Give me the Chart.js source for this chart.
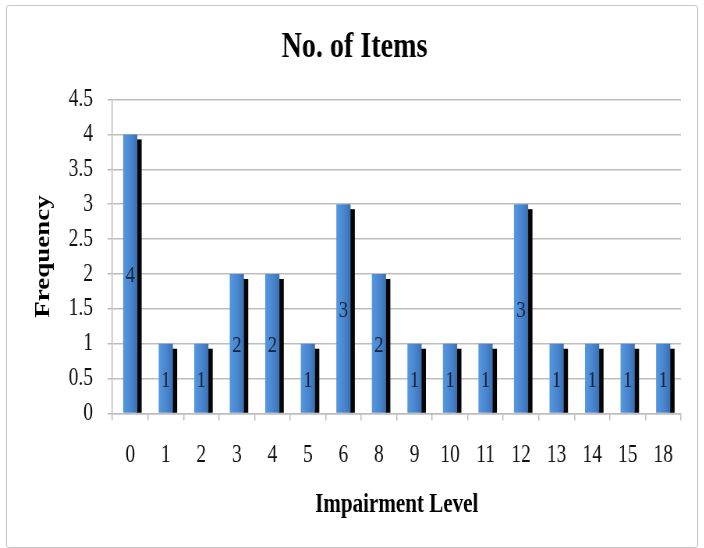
<!DOCTYPE html>
<html>
<head>
<meta charset="utf-8">
<script src="https://cdn.jsdelivr.net/npm/chart.js@4.4.1/dist/chart.umd.min.js"></script>
<style>
  html, body { margin: 0; padding: 0; background: #fff; overflow: hidden; }
  #wrap { position: absolute; left: 0; top: 0; width: 704px; height: 548px; overflow: hidden; }
  /* the chart is laid out wide and narrowed horizontally, giving the condensed look */
  #chart { position: absolute; left: 0; top: 0; transform: scaleX(0.78); transform-origin: 0 0; }
  #frame { position: absolute; left: 6px; top: 5px; width: 692px; height: 543px;
           border: 1px solid #c4c4c4; border-radius: 3px; box-sizing: border-box; pointer-events: none; }
</style>
</head>
<body>
<div id="wrap"><canvas id="chart" width="903" height="548"></canvas></div>
<div id="frame"></div>
<script>
// Impairment level categories and how many items fall in each
const categories = ['0', '1', '2', '3', '4', '5', '6', '8', '9', '10', '11', '12', '13', '14', '15', '18'];
const counts     = [4, 1, 1, 2, 2, 1, 3, 2, 1, 1, 1, 3, 1, 1, 1, 1];

const chartTitle = 'No. of Items';
const xAxisTitle = 'Impairment Level';
const yAxisTitle = 'Frequency';
const yMin = 0;
const yMax = 4.5;
const yStep = 0.5;

const SERIF = '"Liberation Serif", "Times New Roman", serif';
const BAR_FRACTION = 0.4;

// blue bar fill, lighter on the left edge and darker on the right
function barFill(context) {
  const chart = context.chart;
  const xs = chart.scales.x;
  if (!xs || !chart.chartArea) return '#4a88d2';
  const cx = xs.getPixelForValue(context.dataIndex);
  const half = (xs.width / categories.length) * BAR_FRACTION / 2;
  const g = chart.ctx.createLinearGradient(cx - half, 0, cx + half, 0);
  g.addColorStop(0, '#5798de');
  g.addColorStop(0.55, '#4886d0');
  g.addColorStop(1, '#3a6fb1');
  return g;
}

// hard black drop shadow behind each bar, offset right and down
const barShadow = {
  id: 'barShadow',
  beforeDatasetsDraw(chart) {
    const ctx = chart.ctx;
    const meta = chart.getDatasetMeta(0);
    ctx.save();
    ctx.fillStyle = '#050505';
    meta.data.forEach(bar => {
      const p = bar.getProps(['x', 'y', 'base', 'width'], true);
      const top = p.y + 5;
      ctx.fillRect(p.x + p.width / 2 - 1, top, 6.5, p.base - top);
    });
    ctx.restore();
  }
};

// value written in the middle of each bar
const valueLabels = {
  id: 'valueLabels',
  afterDatasetsDraw(chart) {
    const ctx = chart.ctx;
    const meta = chart.getDatasetMeta(0);
    const values = chart.data.datasets[0].data;
    ctx.save();
    ctx.font = '24px ' + SERIF;
    ctx.fillStyle = '#17223a';
    ctx.textAlign = 'center';
    ctx.textBaseline = 'middle';
    meta.data.forEach((bar, i) => {
      const p = bar.getProps(['x', 'y', 'base'], true);
      ctx.fillText(String(values[i]), p.x, (p.y + p.base) / 2 + 2);
    });
    ctx.restore();
  }
};

const gridGrey = '#bdbdbd';

new Chart(document.getElementById('chart'), {
  type: 'bar',
  data: {
    labels: categories,
    datasets: [{
      data: counts,
      backgroundColor: barFill,
      borderWidth: 0,
      categoryPercentage: 1,
      barPercentage: BAR_FRACTION
    }]
  },
  options: {
    responsive: false,
    animation: false,
    devicePixelRatio: 1,
    layout: { padding: { left: 36, right: 30, top: 0, bottom: 0 } },
    plugins: {
      legend: { display: false },
      tooltip: { enabled: false },
      title: {
        display: true,
        text: chartTitle,
        color: '#000',
        font: { family: SERIF, size: 36, weight: 'bold' },
        padding: { top: 26.4, bottom: 29.9 }
      }
    },
    scales: {
      x: {
        grid: { drawOnChartArea: false, offset: true, tickLength: 7, color: gridGrey, lineWidth: 1.5 },
        border: { color: gridGrey, width: 1.5 },
        ticks: { color: '#111', font: { family: SERIF, size: 25 }, padding: 19.5, maxRotation: 0, autoSkip: false },
        title: {
          display: true, text: xAxisTitle, color: '#000',
          font: { family: SERIF, size: 27, weight: 'bold' },
          padding: { top: 0, bottom: 26.8 }
        },
        afterFit(scale) { scale.height = 134.5; }
      },
      y: {
        min: yMin,
        max: yMax,
        ticks: {
          stepSize: yStep, color: '#111', font: { family: SERIF, size: 25 }, padding: 18.6,
          callback: value => String(value)
        },
        grid: { color: gridGrey, lineWidth: 1.5, tickLength: 6.4 },
        border: { color: gridGrey, width: 1.5 },
        title: {
          display: true, text: yAxisTitle, color: '#000',
          font: { family: SERIF, size: 27, weight: 'bold' },
          padding: { top: 4.3, bottom: 0 }
        },
        afterFit(scale) { scale.width = 108.2; }
      }
    }
  },
  plugins: [barShadow, valueLabels]
});
</script>
</body>
</html>
